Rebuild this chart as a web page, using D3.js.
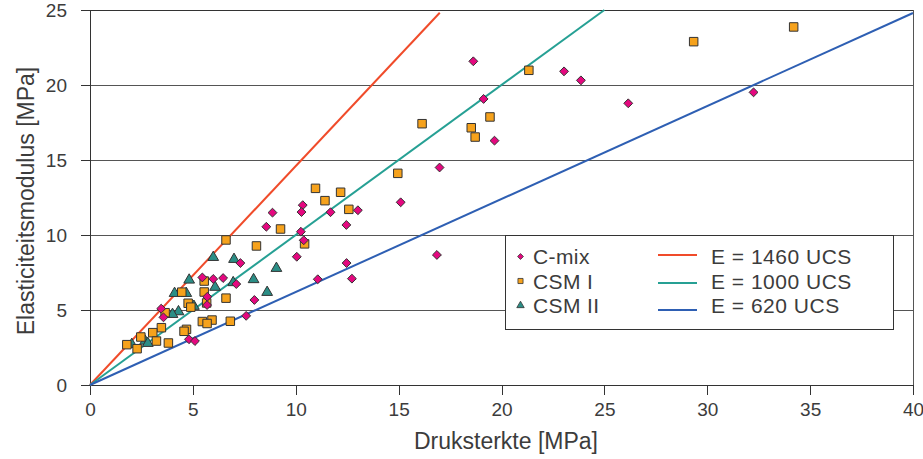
<!DOCTYPE html>
<html><head><meta charset="utf-8">
<script src="https://cdn.jsdelivr.net/npm/d3@7"></script>
<style>body{margin:0;background:#fff}svg{display:block}</style>
</head><body>
<svg id="c" width="923" height="459"></svg>
<script>
// C-mix
const cmixX = [18.63,23.04,23.86,19.13,26.16,32.25,19.66,16.99,15.10,10.34,8.87,10.28,11.69,13.02,8.57,12.46,10.25,10.39,10.05,7.31,12.47,16.86,11.07,12.73,5.99,6.47,5.46,7.11,5.70,5.69,7.99,7.59,3.46,3.57,4.81,5.10];
const cmixY = [21.58,20.91,20.31,19.07,18.78,19.51,16.29,14.50,12.18,11.99,11.49,11.53,11.52,11.65,10.55,10.67,10.22,9.65,8.55,8.13,8.13,8.67,7.05,7.09,7.07,7.13,7.17,6.73,5.88,5.33,5.67,4.61,5.09,4.51,3.05,2.93];
// CSM I
const csm1X = [34.20,29.34,21.33,16.14,19.44,18.53,18.72,14.96,10.96,12.18,11.42,12.58,9.26,6.61,8.09,10.43,5.55,4.46,5.55,6.61,4.77,5.67,4.90,5.46,5.93,5.69,6.82,4.69,4.57,3.65,3.47,3.05,2.47,3.23,3.81,1.79,2.29];
const csm1Y = [23.87,22.89,20.98,17.42,17.87,17.15,16.53,14.11,13.11,12.85,12.29,11.71,10.40,9.67,9.27,9.41,6.93,6.19,6.20,5.79,5.45,5.47,5.19,4.23,4.33,4.10,4.25,3.71,3.58,4.82,3.82,3.49,3.20,2.93,2.80,2.69,2.42];
// CSM II
const csm2X = [9.06,5.99,7.00,4.82,4.11,4.68,6.08,6.96,7.95,8.61,5.05,4.30,4.01,2.68,2.81,2.03];
const csm2Y = [7.78,8.51,8.38,7.00,6.11,6.11,6.52,6.83,7.03,6.18,5.25,4.89,4.71,2.93,2.78,2.71];
// Reference lines E = k * UCS
const lineLabels = ["E = 1460 UCS","E = 1000 UCS","E = 620 UCS"];
const lineSlopes = [1.46, 1.00, 0.62];
const lineEndX = [17, 25, 40];
const seriesNames = ["C-mix","CSM I","CSM II"];
const xTicks = [0,5,10,15,20,25,30,35,40];
const yTicks = [0,5,10,15,20,25];

const lineColors = ["#f04b2a","#26a094","#2e5fb3"];
const fills = ["#e4087f","#f6a21c","#2b8e86"];
const font = "'Liberation Sans', Arial, sans-serif";
const txt = "#3c3c3c";

const svg = d3.select("#c");
const L=90, R=913, T=10, B=385;
const x = d3.scaleLinear().domain([0,40]).range([L,R]);
const y = d3.scaleLinear().domain([0,25]).range([B,T]);

// gridlines
svg.append("g").selectAll("line").data(yTicks.filter(d=>d>0)).join("line")
  .attr("x1",L).attr("x2",R).attr("y1",d=>y(d)).attr("y2",d=>y(d))
  .attr("stroke",d=>d===25?"#333":"#555").attr("stroke-width",1).attr("shape-rendering","crispEdges");
// right border
svg.append("line").attr("x1",R).attr("x2",R).attr("y1",T).attr("y2",B)
  .attr("stroke","#555").attr("shape-rendering","crispEdges");

// axes
const xa = svg.append("g").attr("transform",`translate(0,${B})`)
  .call(d3.axisBottom(x).tickValues(xTicks).tickSize(10).tickPadding(8).tickFormat(d3.format("d")));
const ya = svg.append("g").attr("transform",`translate(${L},0)`)
  .call(d3.axisLeft(y).tickValues(yTicks).tickSize(9).tickPadding(14).tickFormat(d3.format("d")));
[xa,ya].forEach(g=>{
  g.selectAll("path,line").attr("stroke","#333").attr("shape-rendering","crispEdges");
  g.selectAll("text").attr("font-family",font).attr("font-size",19).attr("fill",txt);
});

// reference lines
const lg = svg.append("g");
lineSlopes.forEach((k,i)=>{
  lg.append("line").attr("x1",x(0)).attr("y1",y(0))
    .attr("x2",x(lineEndX[i])).attr("y2",y(k*lineEndX[i]))
    .attr("stroke",lineColors[i]).attr("stroke-width",2);
});

// markers
const diamond = d3.symbol().type(d3.symbolDiamond2).size(50);
const square = d3.symbol().type(d3.symbolSquare).size(72);
const tri = d3.symbol().type(d3.symbolTriangle).size(50);
const sets = [[cmixX,cmixY,diamond],[csm1X,csm1Y,square],[csm2X,csm2Y,tri]];
[2,1,0].forEach(i=>{
  const [xs,ys,sym]=sets[i];
  svg.append("g").selectAll("path").data(xs.map((v,j)=>[v,ys[j]])).join("path")
    .attr("d",sym).attr("transform",d=>`translate(${x(d[0])},${y(d[1])})`)
    .attr("fill",fills[i]).attr("stroke","#333").attr("stroke-width",1);
});

// legend
const leg = svg.append("g");
leg.append("rect").attr("x",505.5).attr("y",235.5).attr("width",388).attr("height",94)
  .attr("fill","#fff").attr("stroke","#333").attr("stroke-width",1);
const rowsY=[256.5,281,305.5];
const smalls=[d3.symbol().type(d3.symbolDiamond2).size(22),d3.symbol().type(d3.symbolSquare).size(26),d3.symbol().type(d3.symbolTriangle).size(24)];
seriesNames.forEach((n,i)=>{
  leg.append("path").attr("d",smalls[i]).attr("transform",`translate(520.5,${rowsY[i]})`)
    .attr("fill",fills[i]).attr("stroke","#333").attr("stroke-width",0.8);
  leg.append("text").attr("x",533).attr("y",rowsY[i]).attr("dy","0.36em")
    .attr("font-family",font).attr("font-size",21).attr("letter-spacing",0.4).attr("fill",txt).text(n);
});
const lineRowY=[255,283,310];
lineLabels.forEach((n,i)=>{
  leg.append("line").attr("x1",658).attr("x2",697).attr("y1",lineRowY[i]).attr("y2",lineRowY[i])
    .attr("stroke",lineColors[i]).attr("stroke-width",2);
  leg.append("text").attr("x",711).attr("y",rowsY[i]).attr("dy","0.36em")
    .attr("font-family",font).attr("font-size",21).attr("letter-spacing",0.5).attr("fill",txt).text(n);
});

// titles
svg.append("text").attr("x",506).attr("y",441).attr("dy","0.36em").attr("text-anchor","middle")
  .attr("font-family",font).attr("font-size",23).attr("fill",txt).text("Druksterkte [MPa]");
svg.append("text").attr("transform","translate(26,201) rotate(-90)").attr("dy","0.36em").attr("text-anchor","middle")
  .attr("font-family",font).attr("font-size",23).attr("fill",txt).text("Elasticiteitsmodulus [MPa]");
</script>
</body></html>
